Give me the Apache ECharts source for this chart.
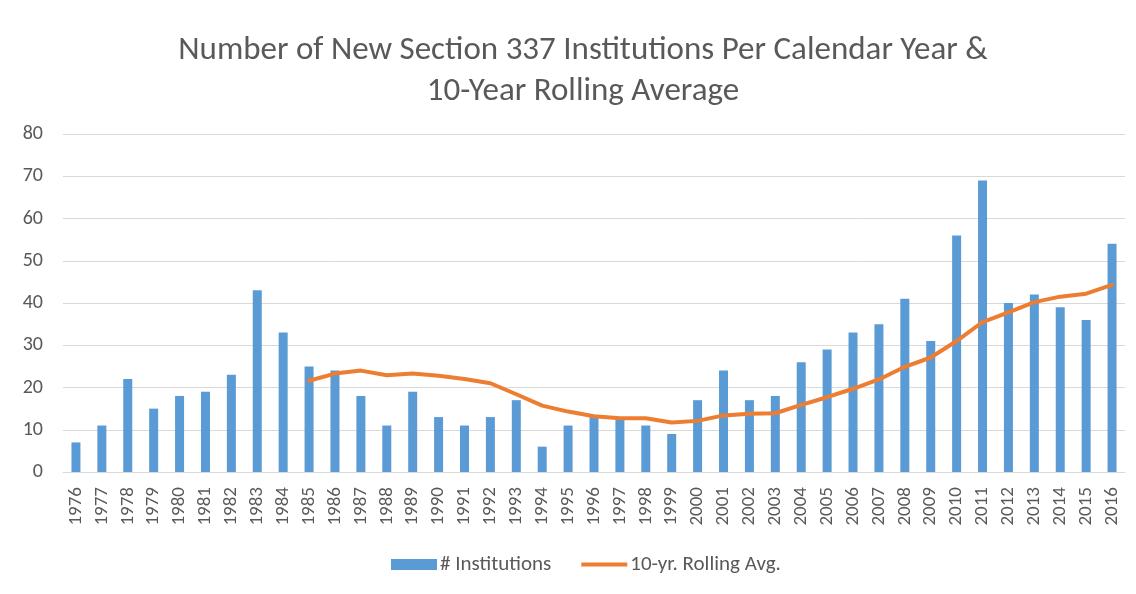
<!DOCTYPE html>
<html>
<head>
<meta charset="utf-8">
<script src="https://cdn.jsdelivr.net/npm/echarts@6/dist/echarts.min.js"></script>
<style>
  html, body { margin: 0; padding: 0; background: #fff; }
  #chart { width: 1136px; height: 594px; }
</style>
</head>
<body>
<div id="chart"></div>
<script>
// years on the x axis
const years = [
  "1976", "1977", "1978", "1979", "1980", "1981", "1982", "1983", "1984", "1985",
  "1986", "1987", "1988", "1989", "1990", "1991", "1992", "1993", "1994", "1995",
  "1996", "1997", "1998", "1999", "2000", "2001", "2002", "2003", "2004", "2005",
  "2006", "2007", "2008", "2009", "2010", "2011", "2012", "2013", "2014", "2015", "2016"
];
// # Institutions (bars)
const institutions = [
  7, 11, 22, 15, 18, 19, 23, 43, 33, 25,
  24, 18, 11, 19, 13, 11, 13, 17, 6, 11,
  13, 13, 11, 9, 17, 24, 17, 18, 26, 29,
  33, 35, 41, 31, 56, 69, 40, 42, 39, 36, 54
];
// 10-yr. Rolling Avg. (line, starts 1985)
const rollingAvg = [
  null, null, null, null, null, null, null, null, null, 21.6,
  23.3, 24.0, 22.9, 23.3, 22.8, 22.0, 21.0, 18.4, 15.7, 14.3,
  13.2, 12.7, 12.7, 11.7, 12.1, 13.4, 13.8, 13.9, 15.9, 17.7,
  19.7, 21.9, 24.9, 27.1, 31.0, 35.5, 37.8, 40.2, 41.5, 42.2, 44.3
];
const yTicks = [0, 10, 20, 30, 40, 50, 60, 70, 80];

const font = "Carlito, 'Liberation Sans Narrow', 'Open Sans', sans-serif";
const chart = echarts.init(document.getElementById("chart"));
chart.setOption({
  animation: false,
  title: {
    text: "Number of New Section 337 Institutions Per Calendar Year &\n10-Year Rolling Average",
    left: 578,
    top: 25,
    textAlign: "center",
    textStyle: {
      fontFamily: font,
      fontSize: 33,
      fontWeight: "normal",
      color: "#595959",
      lineHeight: 41,
    },
  },
  grid: {
    left: 63,
    right: 11,
    top: 134,
    bottom: 122,
  },
  legend: {
    top: 549,
    left: 386,
    itemGap: 30,
    itemWidth: 46,
    itemHeight: 11,
    textStyle: { fontFamily: font, fontSize: 21, color: "#595959", padding: [0, 0, 0, -2] },
    data: [
      { name: "# Institutions", icon: "rect" },
      { name: "10-yr. Rolling Avg.", icon: "path://M0,0H46V4H0Z" },
    ],
  },
  xAxis: {
    type: "category",
    data: years,
    axisTick: { show: false },
    axisLine: { lineStyle: { color: "#d9d9d9", width: 1 } },
    axisLabel: {
      rotate: 90,
      interval: 0,
      margin: 15,
      fontFamily: font,
      fontSize: 19,
      color: "#595959",
    },
  },
  yAxis: {
    type: "value",
    min: yTicks[0],
    max: yTicks[yTicks.length - 1],
    interval: 10,
    axisLine: { show: false },
    axisTick: { show: false },
    splitLine: { lineStyle: { color: "#d9d9d9", width: 1 } },
    axisLabel: {
      margin: 20,
      fontFamily: font,
      fontSize: 20,
      color: "#595959",
    },
  },
  series: [
    {
      name: "# Institutions",
      type: "bar",
      data: institutions,
      barWidth: 9,
      itemStyle: { color: "#5B9BD5" },
    },
    {
      name: "10-yr. Rolling Avg.",
      type: "line",
      data: rollingAvg,
      symbol: "none",
      lineStyle: { color: "#ED7D31", width: 4, cap: "round", join: "round" },
      itemStyle: { color: "#ED7D31" },
    },
  ],
});
</script>
</body>
</html>
